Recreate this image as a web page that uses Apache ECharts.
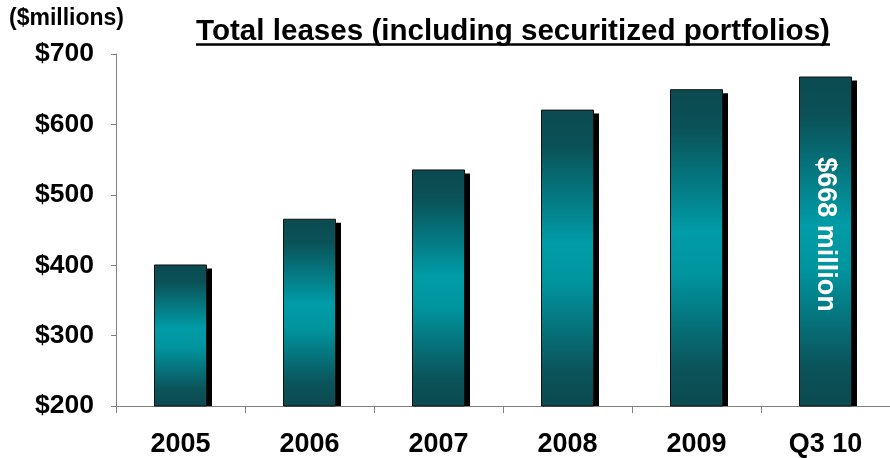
<!DOCTYPE html>
<html>
<head>
<meta charset="utf-8">
<script src="https://cdn.jsdelivr.net/npm/echarts@6/dist/echarts.min.js"></script>
<style>
  html, body { margin: 0; padding: 0; background: #fff; }
  #chart { width: 890px; height: 458px; }
</style>
</head>
<body>
<div id="chart"></div>
<script>
// Total leases by year, $ millions
const categories = ['2005', '2006', '2007', '2008', '2009', 'Q3 10'];
const leases = [401, 466, 536, 621, 650, 668];
const yTicks = [200, 300, 400, 500, 600, 700];
const highlightLabel = '$668 million';

const FONT = 'Liberation Sans, Arial, sans-serif';
const BAR_W = 53;

const barGradient = new echarts.graphic.LinearGradient(0, 0, 0, 1, [
  { offset: 0, color: '#0b4a50' },
  { offset: 0.12, color: '#0a5157' },
  { offset: 0.45, color: '#009ca7' },
  { offset: 0.58, color: '#00959f' },
  { offset: 0.88, color: '#0b535a' },
  { offset: 1, color: '#0b4a50' }
]);

const chart = echarts.init(document.getElementById('chart'));
chart.setOption({
  animation: false,
  graphic: [
    { type: 'text', left: 9, top: 7,
      style: { text: '($millions)', font: 'bold 23px ' + FONT, fill: '#000' } },
    { type: 'text', x: 513, y: 17, scaleX: 1.02,
      style: { text: 'Total leases (including securitized portfolios)',
               font: 'bold 29px ' + FONT, fill: '#000', align: 'center', verticalAlign: 'top' } },
    { type: 'line', shape: { x1: 196, y1: 44.5, x2: 830, y2: 44.5 },
      style: { stroke: '#000', lineWidth: 2.5 } }
  ],
  grid: { left: 116, top: 54, width: 780, bottom: 52 },
  xAxis: {
    type: 'category',
    data: categories,
    boundaryGap: true,
    axisLine: { lineStyle: { color: '#808080', width: 1 } },
    axisTick: { show: true, length: 7, lineStyle: { color: '#808080' } },
    axisLabel: { margin: 25, fontFamily: FONT, fontWeight: 'bold', fontSize: 27, color: '#000' }
  },
  yAxis: {
    type: 'value',
    min: yTicks[0],
    max: yTicks[yTicks.length - 1],
    interval: 100,
    axisLine: { show: true, lineStyle: { color: '#808080', width: 1 } },
    axisTick: { show: true, length: 5, lineStyle: { color: '#808080' } },
    splitLine: { show: false },
    axisLabel: {
      margin: 22, fontFamily: FONT, fontWeight: 'bold', fontSize: 26.5, color: '#000',
      formatter: v => '$' + v
    }
  },
  series: [
    {
      // drop shadow behind each bar, clipped at the baseline
      type: 'custom',
      z: 1,
      silent: true,
      renderItem: function (params, api) {
        const top = api.coord([api.value(0), api.value(1)]);
        const base = api.coord([api.value(0), yTicks[0]]);
        return {
          type: 'rect',
          shape: { x: top[0] - BAR_W / 2 + 5, y: top[1] + 4, width: BAR_W, height: base[1] - top[1] - 4 },
          style: { fill: '#000' }
        };
      },
      data: categories.map((c, i) => [i, leases[i]])
    },
    {
      type: 'bar',
      z: 2,
      barWidth: BAR_W,
      data: leases.map((v, i) => i === leases.length - 1 ? {
        value: v,
        label: {
          show: true, position: 'inside', rotate: -90, offset: [-7, 0],
          formatter: highlightLabel,
          fontFamily: FONT, fontWeight: 'bold', fontSize: 27, color: '#fff'
        }
      } : v),
      itemStyle: { color: barGradient, borderColor: '#111', borderWidth: 1 }
    }
  ]
});
</script>
</body>
</html>
